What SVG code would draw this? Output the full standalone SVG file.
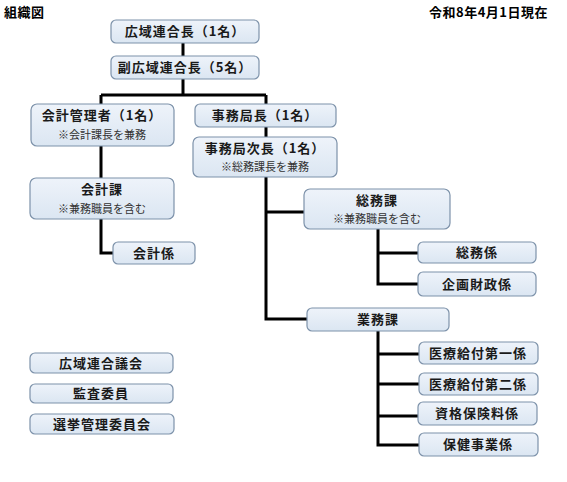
<svg xmlns="http://www.w3.org/2000/svg" width="567" height="482" viewBox="0 0 567 482">
<defs>
<linearGradient id="g" x1="0" y1="0" x2="0" y2="1">
<stop offset="0" stop-color="#eef3fa"/>
<stop offset="1" stop-color="#dbe6f2"/>
</linearGradient>
<style>
.b{fill:url(#g);stroke:#7d92aa;stroke-width:1.2}
.t{font-family:"Noto Sans CJK JP","Noto Sans CJK SC",sans-serif;font-size:13px;font-weight:bold;fill:#1a1a1a;text-anchor:middle;letter-spacing:1px}
.s{font-family:"Noto Sans CJK JP","Noto Sans CJK SC",sans-serif;font-size:11px;fill:#333;text-anchor:middle}
.h{font-family:"Noto Sans CJK JP","Noto Sans CJK SC",sans-serif;font-size:13px;font-weight:bold;fill:#000;letter-spacing:0.5px}
.c{fill:none;stroke:#000;stroke-width:3}
</style>
</defs>
<rect width="567" height="482" fill="#fff"/>
<text class="h" x="4" y="17">組織図</text>
<text class="h" x="548" y="17" text-anchor="end">令和8年4月1日現在</text>
<g id="connectors">
<path class="c" d="M183 43V56M183 79V95M101 95H266M101 95V104M266 95V104M266 127V137M101 146V178M101 219V253H113M266 177V319H307M266 212H304M378 229V284H418M378 253H418M378 331V445H419M378 354H419M378 384H419M378 416H418"/>
</g>
<g id="n1"><rect class="b" x="111" y="20" width="148" height="23" rx="5"/><text class="t" x="185" y="36">広域連合長（1名）</text></g>
<g id="n2"><rect class="b" x="111" y="56" width="148" height="23" rx="5"/><text class="t" x="185" y="72">副広域連合長（5名）</text></g>
<g id="n3"><rect class="b" x="31" y="104" width="143" height="42" rx="6"/><text class="t" x="102" y="120">会計管理者（1名）</text><text class="s" x="102" y="139">※会計課長を兼務</text></g>
<g id="n4"><rect class="b" x="195" y="104" width="141" height="23" rx="5"/><text class="t" x="265" y="120">事務局長（1名）</text></g>
<g id="n5"><rect class="b" x="193" y="137" width="144" height="40" rx="6"/><text class="t" x="265" y="153">事務局次長（1名）</text><text class="s" x="265" y="171">※総務課長を兼務</text></g>
<g id="n6"><rect class="b" x="30" y="178" width="144" height="41" rx="6"/><text class="t" x="102" y="194">会計課</text><text class="s" x="102" y="213">※兼務職員を含む</text></g>
<g id="n7"><rect class="b" x="113" y="242" width="82" height="22" rx="5"/><text class="t" x="154" y="258">会計係</text></g>
<g id="n8"><rect class="b" x="304" y="189" width="146" height="40" rx="6"/><text class="t" x="377" y="205">総務課</text><text class="s" x="377" y="223">※兼務職員を含む</text></g>
<g id="n9"><rect class="b" x="418" y="242" width="118" height="21" rx="5"/><text class="t" x="477" y="257">総務係</text></g>
<g id="n10"><rect class="b" x="418" y="272" width="118" height="24" rx="5"/><text class="t" x="477" y="289">企画財政係</text></g>
<g id="n11"><rect class="b" x="307" y="308" width="142" height="23" rx="5"/><text class="t" x="378" y="324">業務課</text></g>
<g id="n12"><rect class="b" x="419" y="342" width="119" height="22" rx="5"/><text class="t" x="478" y="358">医療給付第一係</text></g>
<g id="n13"><rect class="b" x="419" y="373" width="119" height="22" rx="5"/><text class="t" x="478" y="389">医療給付第二係</text></g>
<g id="n14"><rect class="b" x="418" y="402" width="119" height="23" rx="5"/><text class="t" x="477" y="418">資格保険料係</text></g>
<g id="n15"><rect class="b" x="419" y="433" width="119" height="23" rx="5"/><text class="t" x="478" y="449">保健事業係</text></g>
<g id="n16"><rect class="b" x="30" y="353" width="143" height="20" rx="5"/><text class="t" x="101" y="368">広域連合議会</text></g>
<g id="n17"><rect class="b" x="30" y="384" width="143" height="19" rx="5"/><text class="t" x="101" y="398">監査委員</text></g>
<g id="n18"><rect class="b" x="30" y="414" width="144" height="20" rx="5"/><text class="t" x="102" y="429">選挙管理委員会</text></g>
</svg>
